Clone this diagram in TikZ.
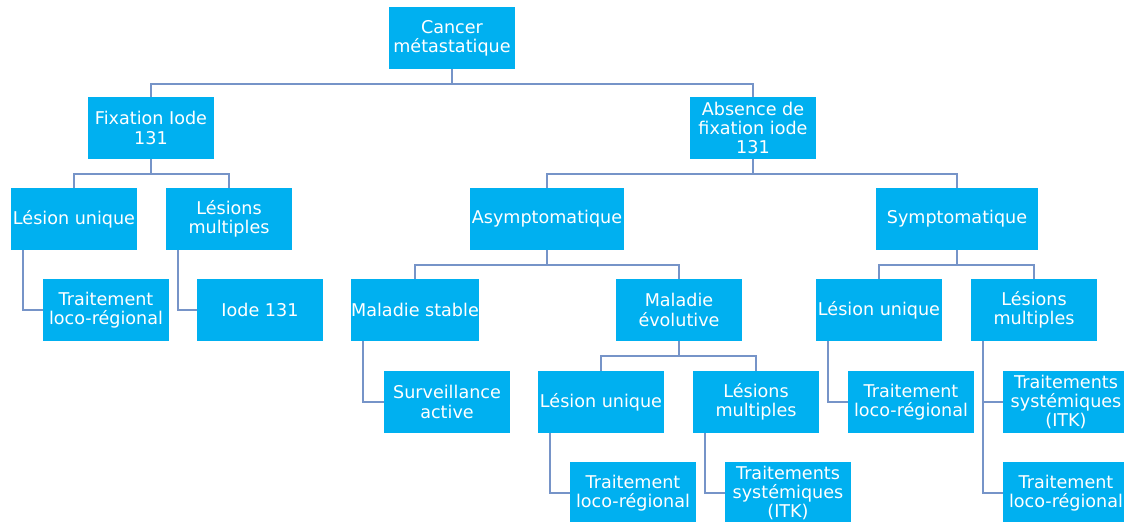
\documentclass[tikz,border=0pt]{standalone}
\usepackage{fontspec}
\setmainfont{DejaVu Sans}
\definecolor{boxblue}{HTML}{00B0F0}
\definecolor{linkblue}{HTML}{7694C8}
\begin{document}
\begin{tikzpicture}[x=0.02cm,y=-0.02cm]
            \tikzset{
	box/.style={fill=boxblue, text=white, align=center, inner sep=0pt,
		minimum width=2.52cm, minimum height=1.24cm, font=\fontsize{10}{11}\selectfont},
	link/.style={draw=linkblue, line width=1.3pt},
	fork/.style={link, to path={(\tikztostart.south) -- ++(0,-0.3cm) -| (\tikztotarget.north)}},
	hang/.style={link, to path={([xshift=0.24cm]\tikztostart.south west) |- (\tikztotarget.west)}}
}
\useasboundingbox (0,0) rectangle (1124,521);

\node[box] (root) at (452,38) {Cancer\\métastatique};
\node[box] (fix) at (151,128) {Fixation Iode\\131};
\node[box] (absfix) at (753,128) {Absence de\\fixation iode\\131};

\node[box] (lu1) at (74,219) {Lésion unique};
\node[box] (lm1) at (229,219) {Lésions\\multiples};
\node[box] (tlr1) at (106,310) {Traitement\\loco-régional};
\node[box] (iode) at (260,310) {Iode 131};

\node[box, minimum width=3.08cm] (asym) at (547,219) {Asymptomatique};
\node[box, minimum width=3.24cm] (sympt) at (957,219) {Symptomatique};

\node[box] (stable) at (415,310) {Maladie stable};
\node[box] (evol) at (679,310) {Maladie\\évolutive};
\node[box] (surv) at (447,402) {Surveillance\\active};
\node[box] (lu2) at (601,402) {Lésion unique};
\node[box] (lm2) at (756,402) {Lésions\\multiples};
\node[box] (tlr2) at (633,493) {Traitement\\loco-régional};
\node[box] (itk2) at (788,493) {Traitements\\systémiques\\(ITK)};

\node[box] (lu3) at (879,310) {Lésion unique};
\node[box] (lm3) at (1034,310) {Lésions\\multiples};
\node[box] (tlr3) at (911,402) {Traitement\\loco-régional};
\node[box] (itk3) at (1066,402) {Traitements\\systémiques\\(ITK)};
\node[box] (tlr4) at (1066,493) {Traitement\\loco-régional};

\foreach \a/\b in {root/fix, root/absfix, fix/lu1, fix/lm1, absfix/asym, absfix/sympt,
	asym/stable, asym/evol, evol/lu2, evol/lm2, sympt/lu3, sympt/lm3}
	\draw[fork] (\a) to (\b);
\foreach \a/\b in {lu1/tlr1, lm1/iode, stable/surv, lu2/tlr2, lm2/itk2,
	lu3/tlr3, lm3/itk3, lm3/tlr4}
	\draw[hang] (\a) to (\b);
        \end{tikzpicture}
\end{document}
